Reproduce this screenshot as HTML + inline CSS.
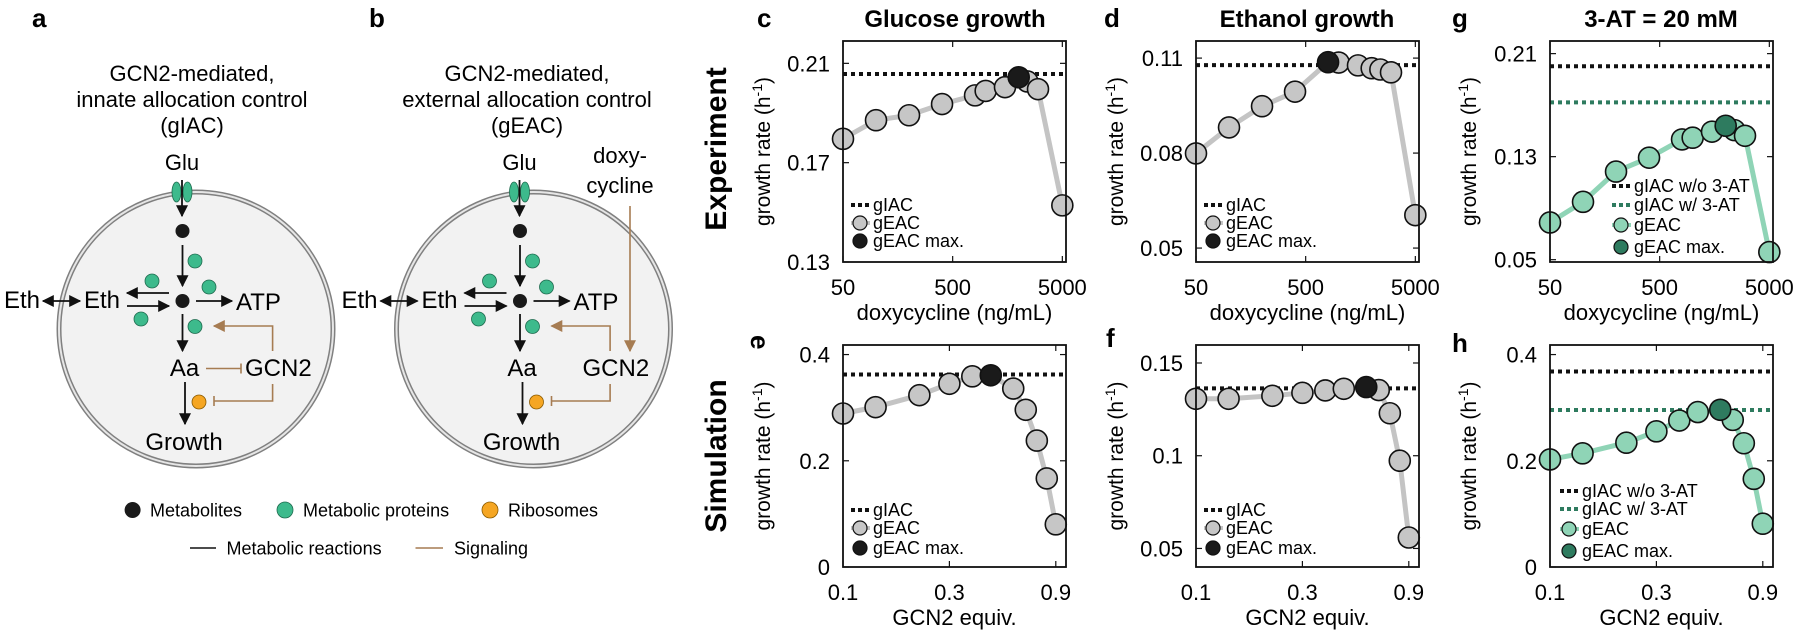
<!DOCTYPE html>
<html><head><meta charset="utf-8"><style>
html,body{margin:0;padding:0;background:#fff;}
svg{display:block;font-family:"Liberation Sans",Arial,sans-serif;}
</style></head><body>
<svg id="fig" width="1800" height="636" viewBox="0 0 1800 636" xmlns="http://www.w3.org/2000/svg">
<defs>
<marker id="ah" viewBox="0 0 10 10" refX="9" refY="5" markerWidth="12" markerHeight="12" markerUnits="userSpaceOnUse" orient="auto-start-reverse"><path d="M0,0 L10,5 L0,10 z" fill="#111"/></marker>
<marker id="bh" viewBox="0 0 10 10" refX="9" refY="5" markerWidth="12" markerHeight="12" markerUnits="userSpaceOnUse" orient="auto"><path d="M0,0 L10,5 L0,10 z" fill="#a67c52"/></marker>
</defs>

<g>
<text x="32" y="27" font-size="26" font-weight="bold">a</text>
<g font-size="22" text-anchor="middle">
<text x="192" y="81">GCN2-mediated,</text>
<text x="192" y="107">innate allocation control</text>
<text x="192" y="133">(gIAC)</text>
</g>
<g id="cellA">
<circle cx="196" cy="329" r="137" fill="#f2f2f2" stroke="#808080" stroke-width="5"/>
<circle cx="196" cy="329" r="137" fill="none" stroke="#e6e6e6" stroke-width="2"/>
<text x="182" y="170" font-size="22" text-anchor="middle">Glu</text>
<ellipse cx="176.5" cy="192" rx="4.5" ry="10" fill="#3dba8c" stroke="#1f6b4f" stroke-width="0.8"/>
<ellipse cx="187.5" cy="192" rx="4.5" ry="10" fill="#3dba8c" stroke="#1f6b4f" stroke-width="0.8"/>
<line x1="182" y1="180" x2="182" y2="216" stroke="#111" stroke-width="1.8" marker-end="url(#ah)"/>
<circle cx="182.5" cy="231" r="7" fill="#1a1a1a"/>
<line x1="182.5" y1="245" x2="182.5" y2="286" stroke="#111" stroke-width="1.8" marker-end="url(#ah)"/>
<circle cx="182.5" cy="301" r="7" fill="#1a1a1a"/>
<circle cx="195" cy="261" r="7" fill="#3dba8c" stroke="#1f6b4f" stroke-width="0.8"/>
<circle cx="152" cy="281" r="7" fill="#3dba8c" stroke="#1f6b4f" stroke-width="0.8"/>
<circle cx="209" cy="287" r="7" fill="#3dba8c" stroke="#1f6b4f" stroke-width="0.8"/>
<circle cx="141" cy="319" r="7" fill="#3dba8c" stroke="#1f6b4f" stroke-width="0.8"/>
<circle cx="195" cy="326.5" r="7" fill="#3dba8c" stroke="#1f6b4f" stroke-width="0.8"/>
<text x="22" y="308" font-size="24" text-anchor="middle">Eth</text>
<line x1="43" y1="301" x2="80" y2="301" stroke="#111" stroke-width="1.8" marker-start="url(#ah)" marker-end="url(#ah)"/>
<text x="102" y="308" font-size="24" text-anchor="middle">Eth</text>
<line x1="169" y1="293" x2="127" y2="293" stroke="#111" stroke-width="1.8" marker-end="url(#ah)"/>
<line x1="127" y1="306" x2="169" y2="306" stroke="#111" stroke-width="1.8" marker-end="url(#ah)"/>
<line x1="196" y1="301" x2="232" y2="301" stroke="#111" stroke-width="1.8" marker-end="url(#ah)"/>
<text x="236" y="310" font-size="24">ATP</text>
<line x1="182.5" y1="314" x2="182.5" y2="351" stroke="#111" stroke-width="1.8" marker-end="url(#ah)"/>
<text x="184.5" y="376" font-size="24" text-anchor="middle">Aa</text>
<line x1="185" y1="382" x2="185" y2="424" stroke="#111" stroke-width="1.8" marker-end="url(#ah)"/>
<circle cx="199" cy="402" r="7" fill="#f5a623" stroke="#8a5a00" stroke-width="0.8"/>
<text x="184" y="450" font-size="24" text-anchor="middle">Growth</text>
<polyline points="272.6,351 272.6,326 214,326" fill="none" stroke="#a67c52" stroke-width="1.6" marker-end="url(#bh)"/>
<polyline points="272.6,384 272.6,401 214,401" fill="none" stroke="#a67c52" stroke-width="1.6"/>
<line x1="214" y1="396" x2="214" y2="406" stroke="#a67c52" stroke-width="1.6"/>
</g>
<line x1="206" y1="368.5" x2="241" y2="368.5" stroke="#a67c52" stroke-width="1.6"/>
<line x1="241" y1="363.5" x2="241" y2="373.5" stroke="#a67c52" stroke-width="1.6"/>
<text x="245" y="376" font-size="24">GCN2</text>
</g>

<g>
<text x="369" y="27" font-size="26" font-weight="bold">b</text>
<g font-size="22" text-anchor="middle">
<text x="527" y="81">GCN2-mediated,</text>
<text x="527" y="107">external allocation control</text>
<text x="527" y="133">(gEAC)</text>
</g>
<use href="#cellA" transform="translate(337.5,0)"/>
<text x="582.5" y="376" font-size="24">GCN2</text>
<text x="620" y="163" font-size="22" text-anchor="middle">doxy-</text>
<text x="620" y="193" font-size="22" text-anchor="middle">cycline</text>
<line x1="630" y1="206" x2="630" y2="351" stroke="#a67c52" stroke-width="1.6" marker-end="url(#bh)"/>
</g>

<g font-size="18">
<circle cx="132.6" cy="510" r="8" fill="#1a1a1a"/><text x="150" y="516.5">Metabolites</text>
<circle cx="285" cy="510" r="8" fill="#3dba8c" stroke="#1f6b4f" stroke-width="0.8"/><text x="303" y="516.5">Metabolic proteins</text>
<circle cx="490" cy="510" r="8" fill="#f5a623" stroke="#8a5a00" stroke-width="0.8"/><text x="508" y="516.5">Ribosomes</text>
<line x1="190" y1="548" x2="216" y2="548" stroke="#111" stroke-width="1.6"/><text x="226.5" y="554.5">Metabolic reactions</text>
<line x1="415.5" y1="548" x2="443" y2="548" stroke="#a67c52" stroke-width="1.6"/><text x="454" y="554.5">Signaling</text>
</g>

<text transform="translate(726,149) rotate(-90)" font-size="30" font-weight="bold" text-anchor="middle">Experiment</text>
<text transform="translate(726,456) rotate(-90)" font-size="30" font-weight="bold" text-anchor="middle">Simulation</text>
<text x="757" y="27" font-size="26" font-weight="bold">c</text>
<text x="955" y="27" font-size="24" font-weight="bold" text-anchor="middle">Glucose growth</text>
<text x="1104" y="27" font-size="26" font-weight="bold">d</text>
<text x="1307" y="27" font-size="24" font-weight="bold" text-anchor="middle">Ethanol growth</text>
<text x="1452" y="27" font-size="26" font-weight="bold">g</text>
<text x="1661" y="27" font-size="24" font-weight="bold" text-anchor="middle">3-AT = 20 mM</text>
<text transform="translate(751,335) rotate(90)" font-size="26" font-weight="bold">e</text>
<text x="1106" y="347" font-size="26" font-weight="bold">f</text>
<text x="1452" y="352" font-size="26" font-weight="bold">h</text>
<g id="charts"></g>
</svg>
<script>
const doseX = [50, 100, 200, 400, 800, 1000, 1500, 2000, 2400, 3000, 5000];
const gcnX = [0.1, 0.14, 0.22, 0.3, 0.38, 0.46, 0.58, 0.66, 0.74, 0.82, 0.9];
const cRate = [0.1796, 0.1871, 0.1891, 0.1936, 0.1971, 0.1989, 0.2004, 0.2044, 0.2027, 0.1996, 0.1528];
const cIAC = [0.2057];
const dRate = [0.0799, 0.0881, 0.0948, 0.0994, 0.1087, 0.1086, 0.1077, 0.1068, 0.1064, 0.1055, 0.0604];
const dIAC = [0.1078];
const gRate = [0.0789, 0.0949, 0.1184, 0.1292, 0.1434, 0.1447, 0.1494, 0.1540, 0.1506, 0.1462, 0.0559];
const gIAC = [0.2002, 0.1721];
const eRate = [0.289, 0.301, 0.3235, 0.345, 0.359, 0.361, 0.336, 0.296, 0.238, 0.1668, 0.0803];
const eIAC = [0.3624];
const fRate = [0.1307, 0.1307, 0.1323, 0.1339, 0.1352, 0.1361, 0.137, 0.1354, 0.1229, 0.0973, 0.0559];
const fIAC = [0.1363];
const hRate = [0.2025, 0.214, 0.234, 0.2554, 0.2758, 0.2917, 0.296, 0.277, 0.233, 0.166, 0.0815];
const hIAC = [0.368, 0.2955];
const doseTicks = [50, 500, 5000];
const doseTickLabels = ["50", "500", "5000"];
const gcnTicks = [0.1, 0.3, 0.9];
const gcnTickLabels = ["0.1", "0.3", "0.9"];
const cYTicks = [0.13, 0.17, 0.21];
const dYTicks = [0.05, 0.08, 0.11];
const gYTicks = [0.05, 0.13, 0.21];
const eYTicks = [0, 0.2, 0.4];
const fYTicks = [0.05, 0.1, 0.15];
const hYTicks = [0, 0.2, 0.4];

const NS = "http://www.w3.org/2000/svg";
const root = document.getElementById('charts');
function mk(tag, attrs, parent) {
  const e = document.createElementNS(NS, tag);
  for (const k in attrs) e.setAttribute(k, attrs[k]);
  (parent || root).appendChild(e);
  return e;
}
function fmt(v) { return String(v); }

function chart(cfg) {
  const g = mk('g', {});
  
  
  const X0 = cfg.x, Y0 = cfg.y, W = cfg.w, H = cfg.h;
  const lx0 = Math.log10(cfg.xd[0]), lx1 = Math.log10(cfg.xd[1]);
  const sx = v => X0 + (Math.log10(v) - lx0) / (lx1 - lx0) * W;
  const sy = v => Y0 + H - (v - cfg.yd[0]) / (cfg.yd[1] - cfg.yd[0]) * H;
  cfg.xt.forEach((t, i) => {
    const px = sx(t);
    mk('line', {x1: px, y1: Y0 + H, x2: px, y2: Y0 + H - 6, stroke: '#111', 'stroke-width': 1.2}, g);
    mk('line', {x1: px, y1: Y0, x2: px, y2: Y0 + 6, stroke: '#111', 'stroke-width': 1.2}, g);
    const tl = mk('text', {x: px, y: Y0 + H + 33, 'font-size': 22, 'text-anchor': 'middle'}, g);
    
    
    tl.textContent = cfg.xtl[i];
  });
  cfg.yt.forEach(t => {
    const py = sy(t);
    mk('line', {x1: X0, y1: py, x2: X0 + 6, y2: py, stroke: '#111', 'stroke-width': 1.2}, g);
    mk('line', {x1: X0 + W, y1: py, x2: X0 + W - 6, y2: py, stroke: '#111', 'stroke-width': 1.2}, g);
    const tl = mk('text', {x: X0 - 13, y: py + 8, 'font-size': 22, 'text-anchor': 'end'}, g);
    
    
    tl.textContent = fmt(t);
  });
  const xt = mk('text', {x: X0 + W / 2, y: Y0 + H + 58, 'font-size': 22, 'text-anchor': 'middle'}, g);
  
  
  xt.textContent = cfg.xlabel;
  const yt = mk('text', {transform: `translate(${cfg.ylx},${Y0 + H / 2}) rotate(-90)`, 'font-size': 21, 'text-anchor': 'middle'}, g);
  
  
  yt.innerHTML = 'growth rate (h<tspan font-size="14" dy="-8">-1</tspan><tspan dy="8">)</tspan>';
  cfg.iac.forEach((v, i) => {
    const l = mk('line', {x1: X0, x2: X0 + W, y1: sy(v), y2: sy(v), stroke: cfg.iacCol[i], 'stroke-width': 4, 'stroke-dasharray': '4 4'}, g);
    
    
  });
  const pts = cfg.xs.map((v, i) => sx(v) + ',' + sy(cfg.ys[i])).join(' ');
  const pl = mk('polyline', {points: pts, fill: 'none', stroke: cfg.lineCol, 'stroke-width': 5, 'stroke-linejoin': 'round'}, g);
  
  
  let mi = 0;
  cfg.ys.forEach((v, i) => { if (v > cfg.ys[mi]) mi = i; });
  cfg.xs.forEach((v, i) => {
    if (i === mi) return;
    const c = mk('circle', {cx: sx(v), cy: sy(cfg.ys[i]), r: 10.5, fill: cfg.ptCol, stroke: '#111', 'stroke-width': 1.6}, g);
    
    
  });
  const cm = mk('circle', {cx: sx(cfg.xs[mi]), cy: sy(cfg.ys[mi]), r: 10.5, fill: cfg.maxCol, stroke: '#111', 'stroke-width': 1.6}, g);
  
  
  mk('rect', {x: X0, y: Y0, width: W, height: H, fill: 'none', stroke: '#111', 'stroke-width': 1.8}, g);
  const lg = mk('g', {'font-size': 18}, g);
  
  
  const lx = X0 + cfg.legX, ys = cfg.legY;
  let k = 0;
  cfg.iacLabels.forEach((lab, i) => {
    const y = ys[k++];
    mk('line', {x1: lx, x2: lx + 19, y1: y, y2: y, stroke: cfg.iacCol[i], 'stroke-width': 4, 'stroke-dasharray': '4 3'}, lg);
    const t = mk('text', {x: lx + 22, y: y + 6}, lg);
    
    
    t.textContent = lab;
  });
  let y = ys[k++];
  mk('line', {x1: lx, x2: lx + 19, y1: y, y2: y, stroke: cfg.lineCol, 'stroke-width': 4}, lg);
  mk('circle', {cx: lx + 9, cy: y, r: 7, fill: cfg.ptCol, stroke: '#111', 'stroke-width': 1.2}, lg);
  let t = mk('text', {x: lx + 22, y: y + 6}, lg);
  
  
  t.textContent = 'gEAC';
  y = ys[k++];
  mk('circle', {cx: lx + 9, cy: y, r: 7, fill: cfg.maxCol, stroke: '#111', 'stroke-width': 1.2}, lg);
  t = mk('text', {x: lx + 22, y: y + 6}, lg);
  
  
  t.textContent = 'gEAC max.';
}

const GRY = '#c6c6c6', GLINE = '#c4c4c4', GRN = '#8fd4b6', GLN = '#8fd4b6', DGR = '#2e7b5f';
const TOP = {y: 41, h: 221}, BOT = {y: 345, h: 222};
const XD = [50, 5400], XG = [0.1, 1.0];
const doseLabel = 'doxycycline (ng/mL)', gcnLabel = 'GCN2 equiv.';

chart({name: 'chart-c-glucose', x: 843, y: TOP.y, w: 223, h: TOP.h, xd: XD, yd: [0.13, 0.219], xt: doseTicks, xtl: doseTickLabels, yt: cYTicks, xlabel: doseLabel, ylx: 770, xs: doseX, ys: cRate, iac: cIAC, iacCol: ['#111'], iacLabels: ['gIAC'], lineCol: GLINE, ptCol: GRY, maxCol: '#1a1a1a', legX: 8, legY: [205, 223, 241]});
chart({name: 'chart-d-ethanol', x: 1196, y: TOP.y, w: 223, h: TOP.h, xd: XD, yd: [0.0456, 0.1154], xt: doseTicks, xtl: doseTickLabels, yt: dYTicks, xlabel: doseLabel, ylx: 1123, xs: doseX, ys: dRate, iac: dIAC, iacCol: ['#111'], iacLabels: ['gIAC'], lineCol: GLINE, ptCol: GRY, maxCol: '#1a1a1a', legX: 8, legY: [205, 223, 241]});
chart({name: 'chart-g-3at', x: 1550, y: TOP.y, w: 223, h: TOP.h, xd: XD, yd: [0.0482, 0.2198], xt: doseTicks, xtl: doseTickLabels, yt: gYTicks, xlabel: doseLabel, ylx: 1476, xs: doseX, ys: gRate, iac: gIAC, iacCol: ['#111', DGR], iacLabels: ['gIAC w/o 3-AT', 'gIAC w/ 3-AT'], lineCol: GLN, ptCol: GRN, maxCol: DGR, legX: 62, legY: [186, 205, 225, 247]});
chart({name: 'chart-e-sim-glucose', x: 843, y: BOT.y, w: 223, h: BOT.h, xd: XG, yd: [0, 0.418], xt: gcnTicks, xtl: gcnTickLabels, yt: eYTicks, xlabel: gcnLabel, ylx: 770, xs: gcnX, ys: eRate, iac: eIAC, iacCol: ['#111'], iacLabels: ['gIAC'], lineCol: GLINE, ptCol: GRY, maxCol: '#1a1a1a', legX: 8, legY: [510, 528, 548]});
chart({name: 'chart-f-sim-ethanol', x: 1196, y: BOT.y, w: 223, h: BOT.h, xd: XG, yd: [0.04, 0.1597], xt: gcnTicks, xtl: gcnTickLabels, yt: fYTicks, xlabel: gcnLabel, ylx: 1123, xs: gcnX, ys: fRate, iac: fIAC, iacCol: ['#111'], iacLabels: ['gIAC'], lineCol: GLINE, ptCol: GRY, maxCol: '#1a1a1a', legX: 8, legY: [510, 528, 548]});
chart({name: 'chart-h-sim-3at', x: 1550, y: BOT.y, w: 223, h: BOT.h, xd: XG, yd: [0, 0.418], xt: gcnTicks, xtl: gcnTickLabels, yt: hYTicks, xlabel: gcnLabel, ylx: 1476, xs: gcnX, ys: hRate, iac: hIAC, iacCol: ['#111', DGR], iacLabels: ['gIAC w/o 3-AT', 'gIAC w/ 3-AT'], lineCol: GLN, ptCol: GRN, maxCol: DGR, legX: 10, legY: [491, 509, 529, 551]});
</script>
</body></html>
